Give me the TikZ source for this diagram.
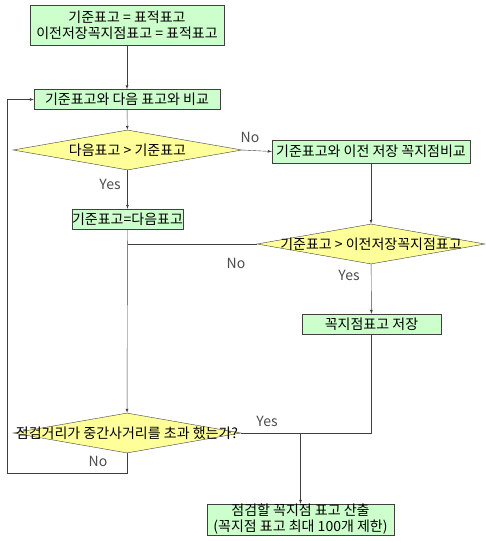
\documentclass[tikz,border=0pt]{standalone}
\usepackage{fontspec}
\setmainfont{Noto Sans CJK KR}
\usetikzlibrary{shapes.geometric}
\definecolor{boxgreen}{RGB}{204,255,204}
\definecolor{decyellow}{RGB}{255,255,153}

\begin{document}
\begin{tikzpicture}[x=1pt,y=-1pt,font=\fontsize{14}{16}\selectfont,>=latex,
	proc/.style={draw=black!75,fill=boxgreen,inner sep=1pt,minimum height=20pt},
	decision/.style={diamond,draw=black!75,fill=decyellow,inner sep=0pt},
	flow/.style={draw=black!75},
	answer/.style={text=black!70}]
	\useasboundingbox (0,0) rectangle (485,541);

	% draw boxes
	\node[proc,minimum width=194pt,minimum height=40pt,align=center,inner sep=0pt] (start) at (127,25)
		{기준표고 = 표적표고\\이전저장꼭지점표고 = 표적표고};
	\node[proc,minimum width=186pt] (cmpnext) at (127,99.5) {기준표고와 다음 표고와 비교};
	\node[proc,minimum width=198pt,minimum height=23pt,inner sep=0pt] (cmpprev) at (371,151.5) {기준표고와 이전 저장 꼭지점비교};
	\node[proc,minimum width=111pt,inner sep=0pt] (update) at (127.5,219) {기준표고=다음표고};
	\node[proc,minimum width=139pt] (save) at (371.5,324) {꼭지점표고 저장};
	\node[proc,minimum width=187pt,minimum height=31pt,align=center,inner sep=0pt] (result) at (300.5,519.5)
		{점검할 꼭지점 표고 산출\\(꼭지점 표고 최대 100개 제한)};

	% draw decisions
	\node[decision,minimum width=229pt,minimum height=40pt,label=center:{다음표고 > 기준표고}] (decnext) at (127.5,150) {};
	\node[decision,minimum width=228pt,minimum height=40pt,label=center:{기준표고 > 이전저장꼭지점표고}] (decprev) at (371,244) {};
	\node[decision,minimum width=228pt,minimum height=40pt,label=center:{점검거리가 중간사거리를 초과 했는가?}] (decdist) at (127,433) {};

	% draw labels
	\node[answer] (no1) at (250,137) {No};
	\node[answer] (yes1) at (110,184) {Yes};
	\node[answer] (no2) at (236,263) {No};
	\node[answer] (yes2) at (349,275) {Yes};
	\node[answer] (yes3) at (267,421) {Yes};
	\node[answer] (no3) at (98,461) {No};

	% draw lines
	\coordinate (loopcorner) at (7,473);
	\coordinate (join) at (result.north |- decdist.east);
	\draw[flow,->] (start) -- (cmpnext);
	\draw[flow,->] (cmpnext) -- (decnext);
	\draw[flow,->] (decnext.east) -- (cmpprev.west);
	\draw[flow,->] (decnext) -- (update);
	\draw[flow,->] (cmpprev) -- (decprev);
	\draw[flow] (decprev.west) -- (update.south |- decprev.west);
	\draw[flow,->] (decprev) -- (save);
	\draw[flow,->] (update) -- (decdist);
	\draw[flow] (save.south) |- (decdist.east);
	\draw[flow,->] (join) -- (result);
	\draw[flow,->] (decdist.south) |- (loopcorner) |- (cmpnext.west);
\end{tikzpicture}
\end{document}
